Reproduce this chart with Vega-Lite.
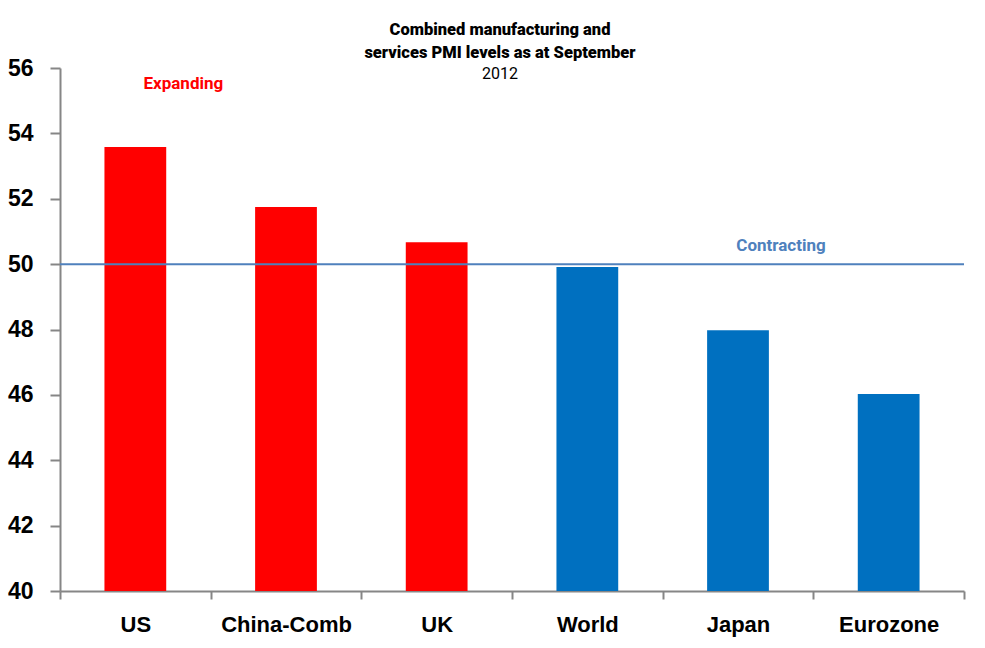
{
  "$schema": "https://vega.github.io/schema/vega-lite/v6.json",
  "width": 904,
  "height": 523,
  "autosize": {"type": "none"},
  "padding": {"left": 60, "top": 68, "right": 21, "bottom": 57},
  "background": "white",
  "config": {"view": {"stroke": null}},
  "title": {
    "text": ["Combined manufacturing and", "services PMI levels as at September"],
    "subtitle": "2012",
    "anchor": "middle",
    "dx": -12,
    "offset": -25,
    "font": "Roboto",
    "fontSize": 16.5,
    "fontWeight": 900,
    "lineHeight": 23,
    "color": "black",
    "subtitleFont": "Roboto",
    "subtitleFontSize": 16,
    "subtitleFontWeight": "normal",
    "subtitleColor": "black",
    "subtitlePadding": 5
  },
  "datasets": {
    "pmi": [
      {"region": "US", "value": 53.58, "status": "Expanding"},
      {"region": "China-Comb", "value": 51.75, "status": "Expanding"},
      {"region": "UK", "value": 50.67, "status": "Expanding"},
      {"region": "World", "value": 49.91, "status": "Contracting"},
      {"region": "Japan", "value": 47.98, "status": "Contracting"},
      {"region": "Eurozone", "value": 46.03, "status": "Contracting"}
    ]
  },
  "layer": [
    {
      "data": {"name": "pmi"},
      "mark": {"type": "bar", "width": {"band": 0.41}},
      "encoding": {
        "x": {
          "field": "region",
          "type": "nominal",
          "sort": null,
          "scale": {"paddingInner": 0, "paddingOuter": 0},
          "axis": {
            "title": null,
            "labelAngle": 0,
            "labelFont": "Liberation Sans",
            "labelFontWeight": "bold",
            "labelFontSize": 22,
            "labelColor": "black",
            "labelPadding": 15,
            "domainColor": "#868686",
            "domainWidth": 2,
            "tickColor": "#868686",
            "tickWidth": 2,
            "tickSize": 8,
            "tickBand": "extent"
          }
        },
        "y": {
          "field": "value",
          "type": "quantitative",
          "scale": {"domain": [40, 56], "nice": false, "zero": false},
          "axis": {
            "title": null,
            "values": [40, 42, 44, 46, 48, 50, 52, 54, 56],
            "grid": false,
            "labelFont": "Liberation Sans",
            "labelFontWeight": "bold",
            "labelFontSize": 23,
            "labelColor": "black",
            "labelPadding": 17,
            "domainColor": "#868686",
            "domainWidth": 2,
            "tickColor": "#868686",
            "tickWidth": 2,
            "tickSize": 10
          }
        },
        "y2": {"datum": 40},
        "color": {
          "field": "status",
          "type": "nominal",
          "scale": {"domain": ["Expanding", "Contracting"], "range": ["#FF0000", "#0070C0"]},
          "legend": null
        }
      }
    },
    {
      "data": {"values": [{"level": 50}]},
      "mark": {"type": "rule", "color": "#4F81BD", "strokeWidth": 2},
      "encoding": {"y": {"field": "level", "type": "quantitative"}}
    },
    {
      "data": {"values": [{"region": "US", "value": 55.5, "label": "Expanding"}]},
      "mark": {"type": "text", "font": "Roboto", "fontWeight": "bold", "fontSize": 17, "baseline": "middle", "color": "#FF0000", "dx": 48},
      "encoding": {
        "x": {"field": "region", "type": "nominal", "sort": null},
        "y": {"field": "value", "type": "quantitative"},
        "text": {"field": "label"}
      }
    },
    {
      "data": {"values": [{"region": "Japan", "value": 50.55, "label": "Contracting"}]},
      "mark": {"type": "text", "font": "Roboto", "fontWeight": "bold", "fontSize": 17, "baseline": "middle", "color": "#4F81BD", "dx": 43},
      "encoding": {
        "x": {"field": "region", "type": "nominal", "sort": null},
        "y": {"field": "value", "type": "quantitative"},
        "text": {"field": "label"}
      }
    }
  ]
}
